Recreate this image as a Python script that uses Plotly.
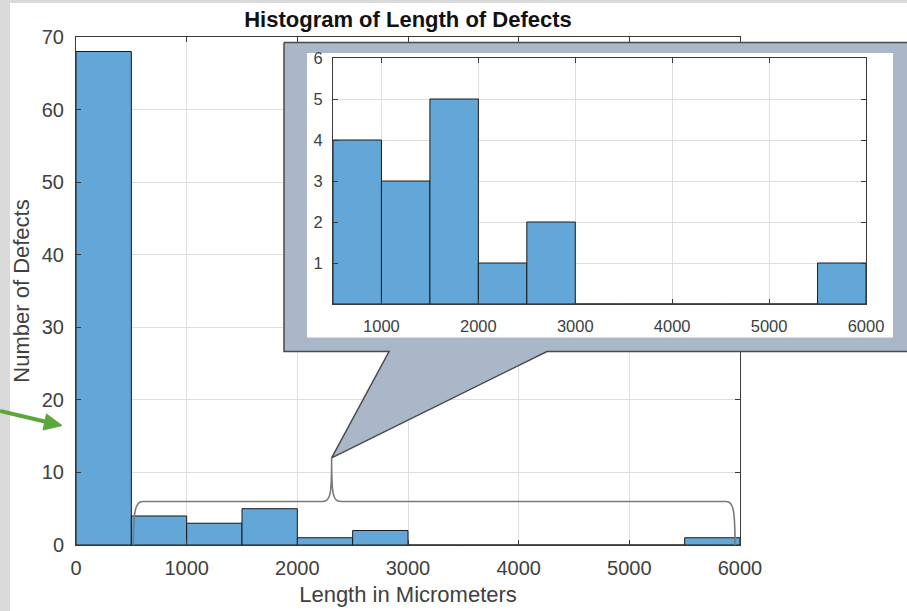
import plotly.graph_objects as go

# ---------------- data ----------------
bin_edges = [0, 500, 1000, 1500, 2000, 2500, 3000, 3500, 4000, 4500, 5000, 5500, 6000]
counts = [68, 4, 3, 5, 1, 2, 0, 0, 0, 0, 0, 1]

x_ticks_main = [0, 1000, 2000, 3000, 4000, 5000, 6000]
y_ticks_main = [0, 10, 20, 30, 40, 50, 60, 70]
x_ticks_inset = [1000, 2000, 3000, 4000, 5000, 6000]
y_ticks_inset = [1, 2, 3, 4, 5, 6]

title_text = "Histogram of Length of Defects"
x_label = "Length in Micrometers"
y_label = "Number of Defects"

zoom_start = 500          # inset shows bins from this edge on
brace_level = 6           # height of the brace (data units)
callout_x, callout_y = 2310, 12   # brace peak / callout tip (data units)

# ---------------- style / layout constants ----------------
W, H = 907, 611
ML, MR, MT, MB = 76, 0, 37, 66
PW, PH = W - ML - MR, H - MT - MB
MAIN_RIGHT_PX = 740
X_MAX, Y_MAX = 6000, 70

BAR = "#62a7d7"
EDGE = "#1a1a1a"
AXC = "#3a3a3a"
TXT = "#404040"
GRID = "#dedede"
FRAME = "#a9b7c9"
FONT = "Liberation Sans, Arial, sans-serif"


def paper_x(p):
    return (p - ML) / PW


def paper_y(p):
    return (H - MB - p) / PH


def data_to_px(x, y):
    return (ML + x / X_MAX * (MAIN_RIGHT_PX - ML), (H - MB) - y / Y_MAX * PH)


centers = [(a + b) / 2 for a, b in zip(bin_edges[:-1], bin_edges[1:])]
widths = [b - a for a, b in zip(bin_edges[:-1], bin_edges[1:])]
inset_idx = [i for i, a in enumerate(bin_edges[:-1]) if a >= zoom_start]

fig = go.Figure()

# main histogram
fig.add_trace(go.Bar(
    x=centers, y=counts, width=widths,
    marker=dict(color=BAR, line=dict(color=EDGE, width=1)),
    xaxis="x", yaxis="y", showlegend=False, hoverinfo="skip"))

# callout frame (drawn in a transparent overlay subplot, pixel units)
tip_px = data_to_px(callout_x, callout_y)
F_L, F_T, F_R, F_B = 284, 42.5, 930, 351.5
frame_x = [F_L, F_R, F_R, 547, tip_px[0], 389, F_L, F_L]
frame_y = [F_T, F_T, F_B, F_B, tip_px[1], F_B, F_B, F_T]
fig.add_trace(go.Scatter(
    x=frame_x, y=frame_y, mode="lines", fill="toself", fillcolor=FRAME,
    line=dict(color="#4a4a4a", width=1.5), xaxis="x2", yaxis="y2",
    showlegend=False, hoverinfo="skip"))
fig.add_trace(go.Scatter(
    x=[307, 893, 893, 307, 307], y=[53, 53, 337.5, 337.5, 53],
    mode="lines", fill="toself", fillcolor="white",
    line=dict(color="white", width=0), xaxis="x2", yaxis="y2",
    showlegend=False, hoverinfo="skip"))

# inset histogram
fig.add_trace(go.Bar(
    x=[centers[i] for i in inset_idx], y=[counts[i] for i in inset_idx],
    width=[widths[i] for i in inset_idx],
    marker=dict(color=BAR, line=dict(color=EDGE, width=1)),
    xaxis="x3", yaxis="y3", showlegend=False, hoverinfo="skip"))

# brace over the zoomed range
L = zoom_start + 18
R = bin_edges[-1] - 45
lv = brace_level
cx, cy = callout_x, callout_y
brace_path = (
    f"M {L},0 C {L},{lv*0.8} {L+20},{lv} {L+85},{lv} "
    f"L {cx-80},{lv} C {cx-10},{lv} {cx},{lv+1} {cx},{cy} "
    f"C {cx},{lv+1} {cx+10},{lv} {cx+80},{lv} "
    f"L {R-80},{lv} C {R-15},{lv} {R},{lv*0.8} {R},0"
)

shapes = [
    # grey page edge
    dict(type="rect", xref="paper", yref="paper", x0=paper_x(0), x1=paper_x(10),
         y0=paper_y(H), y1=paper_y(0), fillcolor="#dadada", line=dict(width=0), layer="below"),
    dict(type="rect", xref="paper", yref="paper", x0=paper_x(0), x1=paper_x(W),
         y0=paper_y(3), y1=paper_y(0), fillcolor="#dadada", line=dict(width=0), layer="below"),
    # brace
    dict(type="path", xref="x", yref="y", path=brace_path,
         line=dict(color="#7a7a7a", width=1.6), layer="above"),
    # green arrow
    dict(type="line", xref="paper", yref="paper", x0=paper_x(0), y0=paper_y(411),
         x1=paper_x(48), y1=paper_y(422.3), line=dict(color="#5aa83c", width=4), layer="above"),
    dict(type="path", xref="paper", yref="paper",
         path=(f"M {paper_x(62)},{paper_y(425.5)} L {paper_x(46.5)},{paper_y(414)} "
               f"L {paper_x(43)},{paper_y(430)} Z"),
         fillcolor="#5aa83c", line=dict(color="#5aa83c", width=1), layer="above"),
]

axis_common = dict(
    showline=True, linecolor=AXC, linewidth=1, mirror="ticks",
    ticks="inside", ticklen=5, tickcolor=AXC, tickwidth=1,
    showgrid=True, gridcolor=GRID, gridwidth=1, zeroline=False, automargin=False,
)

fig.update_layout(
    template="none",
    width=W, height=H, autosize=False,
    margin=dict(l=ML, r=MR, t=MT, b=MB, pad=0, autoexpand=False),
    paper_bgcolor="white", plot_bgcolor="rgba(0,0,0,0)",
    font=dict(family=FONT, color=TXT),
    title=dict(text=f"<b>{title_text}</b>", x=((ML + MAIN_RIGHT_PX) / 2) / W, xanchor="center",
               y=1 - 19 / H, yanchor="middle", automargin=False,
               font=dict(size=22, color="#111111", family=FONT)),
    barmode="overlay",
    showlegend=False,
    shapes=shapes,
    xaxis=dict(domain=[0, paper_x(MAIN_RIGHT_PX)], range=[0, X_MAX], tickvals=x_ticks_main,
               tickfont=dict(size=20, color=TXT), ticklabelstandoff=5,
               title=dict(text=x_label, font=dict(size=22, color=TXT), standoff=8),
               anchor="y", **axis_common),
    yaxis=dict(domain=[0, 1], range=[0, Y_MAX], tickvals=y_ticks_main,
               tickfont=dict(size=20, color=TXT), ticklabelstandoff=7,
               title=dict(text=y_label, font=dict(size=22, color=TXT), standoff=6),
               anchor="x", **axis_common),
    xaxis2=dict(domain=[paper_x(280), 1], range=[280, W], visible=False, anchor="y2",
                fixedrange=True, automargin=False),
    yaxis2=dict(domain=[paper_y(462), paper_y(38)], range=[462, 38], visible=False,
                anchor="x2", fixedrange=True, automargin=False),
    xaxis3=dict(domain=[paper_x(333), paper_x(866)], range=[zoom_start, X_MAX],
                tickvals=x_ticks_inset, tickfont=dict(size=16.5, color=TXT),
                ticklabelstandoff=7, anchor="y3", **axis_common),
    yaxis3=dict(domain=[paper_y(304), paper_y(58)], range=[0, 6], tickvals=y_ticks_inset,
                tickfont=dict(size=16.5, color=TXT), ticklabelstandoff=6, anchor="x3",
                **axis_common),
)

fig.write_html("out.html", config={"displayModeBar": False},
               post_script="document.body.style.margin='0px';")
